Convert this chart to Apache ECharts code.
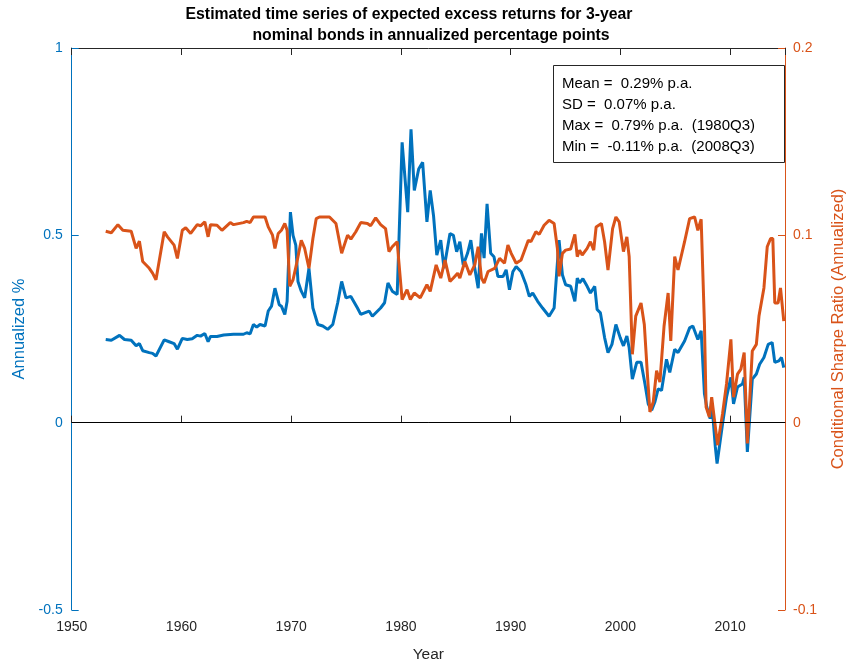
<!DOCTYPE html>
<html><head><meta charset="utf-8">
<script src="https://cdn.jsdelivr.net/npm/echarts@6/dist/echarts.min.js"></script>
<style>html,body{margin:0;padding:0;background:#fff}#c{width:855px;height:668px}</style>
</head><body><div id="c"></div>
<script>
// ---- data ----
const titleLines = ["Estimated time series of expected excess returns for 3-year", "nominal bonds in annualized percentage points"];
const statLines = ["Mean =  0.29% p.a.", "SD =  0.07% p.a.", "Max =  0.79% p.a.  (1980Q3)", "Min =  -0.11% p.a.  (2008Q3)"];
const xName = "Year";
const leftName = "Annualized %";
const rightName = "Conditional Sharpe Ratio (Annualized)";

const blueYears = [1953.10,1953.61,1954.36,1954.81,1955.42,1955.87,1956.17,1956.47,1957.07,1957.37,1957.68,1958.43,1958.88,1959.33,1959.63,1960.08,1960.53,1960.98,1961.44,1961.74,1962.13,1962.43,1962.65,1963.24,1963.85,1964.75,1965.65,1965.95,1966.26,1966.56,1966.86,1967.16,1967.62,1967.91,1968.21,1968.52,1968.66,1968.91,1969.11,1969.42,1969.63,1969.93,1970.17,1970.42,1970.62,1970.92,1971.23,1971.62,1971.98,1972.43,1972.88,1973.33,1973.79,1974.24,1974.60,1974.99,1975.44,1976.04,1976.34,1977.10,1977.40,1978.15,1978.51,1978.82,1979.21,1979.66,1980.11,1980.62,1980.92,1981.22,1981.62,1981.98,1982.37,1982.67,1982.97,1983.27,1983.63,1983.93,1984.47,1984.78,1985.08,1985.37,1985.68,1986.07,1986.37,1986.68,1987.04,1987.34,1987.58,1987.85,1988.18,1988.48,1988.84,1989.30,1989.59,1989.89,1990.20,1990.50,1990.95,1991.40,1991.70,1992.01,1992.46,1992.91,1993.50,1993.96,1994.41,1994.72,1995.01,1995.47,1995.85,1996.07,1996.28,1996.58,1996.97,1997.27,1997.66,1997.88,1998.18,1998.56,1998.87,1999.23,1999.59,1999.98,2000.28,2000.59,2000.80,2001.09,2001.49,2001.88,2002.24,2002.54,2002.85,2003.14,2003.44,2003.75,2004.20,2004.50,2004.95,2005.25,2005.85,2006.31,2006.60,2007.06,2007.36,2007.66,2007.87,2008.18,2008.36,2008.65,2008.81,2009.31,2009.67,2010.07,2010.31,2010.67,2011.12,2011.28,2011.57,2012.02,2012.39,2012.69,2013.08,2013.47,2013.83,2014.07,2014.44,2014.68,2014.89];
const blueVals = [0.222,0.220,0.233,0.222,0.220,0.205,0.211,0.192,0.187,0.185,0.178,0.221,0.216,0.211,0.196,0.225,0.222,0.224,0.233,0.231,0.238,0.216,0.230,0.230,0.234,0.236,0.236,0.240,0.237,0.262,0.255,0.262,0.258,0.298,0.311,0.359,0.364,0.315,0.311,0.289,0.324,0.562,0.500,0.474,0.377,0.351,0.333,0.412,0.306,0.262,0.258,0.249,0.262,0.320,0.377,0.333,0.337,0.306,0.289,0.298,0.284,0.306,0.320,0.373,0.351,0.342,0.748,0.562,0.783,0.620,0.677,0.695,0.536,0.620,0.553,0.447,0.487,0.412,0.505,0.500,0.456,0.483,0.421,0.452,0.487,0.421,0.359,0.505,0.439,0.584,0.452,0.443,0.390,0.390,0.408,0.355,0.403,0.417,0.403,0.368,0.337,0.346,0.324,0.306,0.284,0.306,0.487,0.394,0.368,0.364,0.324,0.386,0.373,0.384,0.364,0.346,0.364,0.302,0.293,0.227,0.187,0.209,0.262,0.227,0.205,0.231,0.200,0.116,0.161,0.161,0.103,0.050,0.033,0.055,0.090,0.086,0.169,0.134,0.196,0.187,0.218,0.253,0.258,0.222,0.245,0.077,0.042,0.011,0.042,-0.064,-0.109,-0.003,0.068,0.121,0.050,0.095,0.103,0.121,-0.078,0.116,0.130,0.156,0.174,0.209,0.214,0.161,0.165,0.174,0.147];

const orangeYears = [1953.10,1953.61,1954.21,1954.66,1955.42,1955.87,1956.17,1956.47,1957.07,1957.37,1957.68,1958.43,1958.73,1958.88,1959.33,1959.63,1960.08,1960.39,1960.84,1961.44,1961.74,1962.13,1962.43,1962.65,1963.24,1963.69,1964.45,1964.75,1965.65,1965.95,1966.26,1966.56,1967.62,1967.91,1968.30,1968.52,1968.66,1968.82,1969.11,1969.42,1969.63,1969.87,1970.17,1970.47,1970.92,1971.23,1971.62,1971.98,1972.28,1972.58,1973.49,1974.08,1974.60,1975.14,1975.44,1975.89,1976.34,1976.95,1977.24,1977.70,1978.15,1978.60,1978.91,1979.21,1979.66,1979.81,1980.11,1980.56,1980.86,1981.22,1981.76,1982.37,1982.67,1983.21,1983.63,1984.02,1984.47,1984.78,1985.17,1985.37,1985.83,1986.28,1986.73,1987.04,1987.34,1987.58,1987.94,1988.54,1988.99,1989.44,1989.75,1990.05,1990.50,1990.95,1991.61,1991.85,1992.30,1992.60,1993.05,1993.50,1993.96,1994.26,1994.41,1994.72,1995.01,1995.47,1995.85,1996.07,1996.28,1996.52,1996.97,1997.27,1997.57,1997.79,1998.27,1998.56,1998.87,1999.29,1999.59,1999.89,2000.28,2000.59,2000.80,2001.09,2001.40,2001.88,2002.18,2002.48,2002.69,2002.99,2003.30,2003.60,2003.98,2004.35,2004.59,2004.95,2005.25,2005.85,2006.31,2006.76,2007.06,2007.36,2007.66,2007.81,2008.11,2008.32,2008.56,2008.86,2009.31,2009.67,2010.07,2010.31,2010.67,2010.98,2011.28,2011.57,2012.02,2012.39,2012.63,2013.08,2013.38,2013.69,2013.89,2014.07,2014.37,2014.59,2014.89];
const orangeVals = [0.1022,0.1014,0.1057,0.1027,0.1022,0.0930,0.0969,0.0860,0.0824,0.0798,0.0763,0.1019,0.0992,0.1001,0.0948,0.0877,0.1027,0.1040,0.1010,0.1057,0.1051,0.1072,0.0992,0.1057,0.1054,0.1027,0.1068,0.1057,0.1068,0.1075,0.1068,0.1098,0.1098,0.1045,0.1001,0.0930,0.0927,0.1010,0.1027,0.1063,0.1027,0.0728,0.0763,0.0842,0.0974,0.0930,0.0824,0.0983,0.1089,0.1098,0.1098,0.1063,0.0904,0.1001,0.0980,0.1019,0.1068,0.1063,0.1051,0.1093,0.1057,0.1036,0.0913,0.0939,0.0966,0.0860,0.0657,0.0710,0.0657,0.0692,0.0666,0.0736,0.0701,0.0842,0.0772,0.0868,0.0754,0.0772,0.0798,0.0772,0.0860,0.0789,0.0842,0.0939,0.0772,0.0745,0.0807,0.0824,0.0877,0.0851,0.0948,0.0904,0.0851,0.0868,0.0974,0.0966,0.1019,0.1005,0.1054,0.1080,0.1063,0.0930,0.0781,0.0904,0.0921,0.0927,0.1005,0.0886,0.0921,0.0895,0.0930,0.0966,0.0921,0.1045,0.1063,0.0966,0.0815,0.1036,0.1098,0.1072,0.0913,0.0992,0.0886,0.0365,0.0569,0.0639,0.0524,0.0242,0.0057,0.0110,0.0277,0.0216,0.0516,0.0692,0.0436,0.0886,0.0815,0.0966,0.1089,0.1098,0.1027,0.1086,0.0524,0.0083,0.0030,0.0136,0.0021,-0.0120,0.0048,0.0207,0.0445,0.0136,0.0259,0.0286,0.0374,-0.0111,0.0383,0.0418,0.0569,0.0719,0.0939,0.0983,0.0983,0.0639,0.0639,0.0719,0.0542];

// ---- chart ----
const BLUE = '#0072BD', ORANGE = '#D95319', DARK = '#262626';
const FONT = 'Liberation Sans, Arial, sans-serif';
const chart = echarts.init(document.getElementById('c'), null, {renderer: 'canvas'});
const zip = (xs, ys) => xs.map((x, i) => [x, ys[i]]);

const statTexts = statLines.map((s, i) => ({
  type: 'text', x: 562, y: 83.5 + i * 21.2, z: 11,
  style: {text: s, font: '15px ' + FONT, fill: '#000', verticalAlign: 'middle', align: 'left'}
}));

chart.setOption({
  animation: false,
  grid: {left: 71.7, right: 64, top: 48, bottom: 53.5, containLabel: false},
  xAxis: [{
    type: 'value', min: 1950, max: 2015, interval: 10, position: 'bottom',
    name: xName, nameLocation: 'middle', nameGap: 37,
    nameTextStyle: {color: DARK, fontSize: 15.5, fontFamily: FONT},
    axisLine: {lineStyle: {color: DARK, width: 1}},
    axisTick: {inside: true, length: 7, lineStyle: {color: DARK}},
    axisLabel: {color: DARK, fontSize: 14, fontFamily: FONT, margin: 10, showMaxLabel: false,
      formatter: v => String(v)},
    splitLine: {show: false}
  }, {
    type: 'value', min: 1950, max: 2015, interval: 10, position: 'top',
    axisLine: {onZero: false, lineStyle: {color: DARK, width: 1}},
    axisTick: {inside: true, length: 7, lineStyle: {color: DARK}},
    axisLabel: {show: false}, splitLine: {show: false}
  }],
  yAxis: [{
    type: 'value', min: -0.5, max: 1, interval: 0.5, position: 'left',
    name: leftName, nameLocation: 'middle', nameGap: 40,
    nameTextStyle: {color: BLUE, fontSize: 16.5, fontFamily: FONT},
    axisLine: {show: true, onZero: false, lineStyle: {color: BLUE, width: 1}},
    axisTick: {show: true, inside: true, length: 7, lineStyle: {color: BLUE}},
    axisLabel: {color: BLUE, fontSize: 14, fontFamily: FONT, margin: 9},
    splitLine: {show: false}
  }, {
    type: 'value', min: -0.1, max: 0.2, interval: 0.1, position: 'right',
    name: rightName, nameLocation: 'middle', nameGap: 45,
    nameTextStyle: {color: ORANGE, fontSize: 16.5, fontFamily: FONT},
    axisLine: {show: true, onZero: false, lineStyle: {color: ORANGE, width: 1}},
    axisTick: {show: true, inside: true, length: 7, lineStyle: {color: ORANGE}},
    axisLabel: {color: ORANGE, fontSize: 14, fontFamily: FONT, margin: 8},
    splitLine: {show: false}
  }],
  series: [{
    type: 'line', name: 'ER', xAxisIndex: 0, yAxisIndex: 0,
    data: zip(blueYears, blueVals), showSymbol: false, symbol: 'none',
    lineStyle: {color: BLUE, width: 3}, itemStyle: {color: BLUE},
    markLine: {silent: true, symbol: 'none', label: {show: false},
      lineStyle: {color: '#000', width: 1, type: 'solid'}, data: [{yAxis: 0}]},
    z: 2
  }, {
    type: 'line', name: 'SR', xAxisIndex: 0, yAxisIndex: 1,
    data: zip(orangeYears, orangeVals), showSymbol: false, symbol: 'none',
    lineStyle: {color: ORANGE, width: 3}, itemStyle: {color: ORANGE},
    z: 3
  }],
  graphic: [
    {type: 'text', x: 409, y: 15, style: {text: titleLines[0], font: 'bold 15.8px ' + FONT, fill: '#000', align: 'center', verticalAlign: 'middle'}},
    {type: 'text', x: 431, y: 36, style: {text: titleLines[1], font: 'bold 15.8px ' + FONT, fill: '#000', align: 'center', verticalAlign: 'middle'}},
    {type: 'rect', shape: {x: 553.5, y: 65.5, width: 231, height: 97}, style: {fill: '#fff', stroke: DARK, lineWidth: 1}, z: 10}
  ].concat(statTexts)
});
</script></body></html>
